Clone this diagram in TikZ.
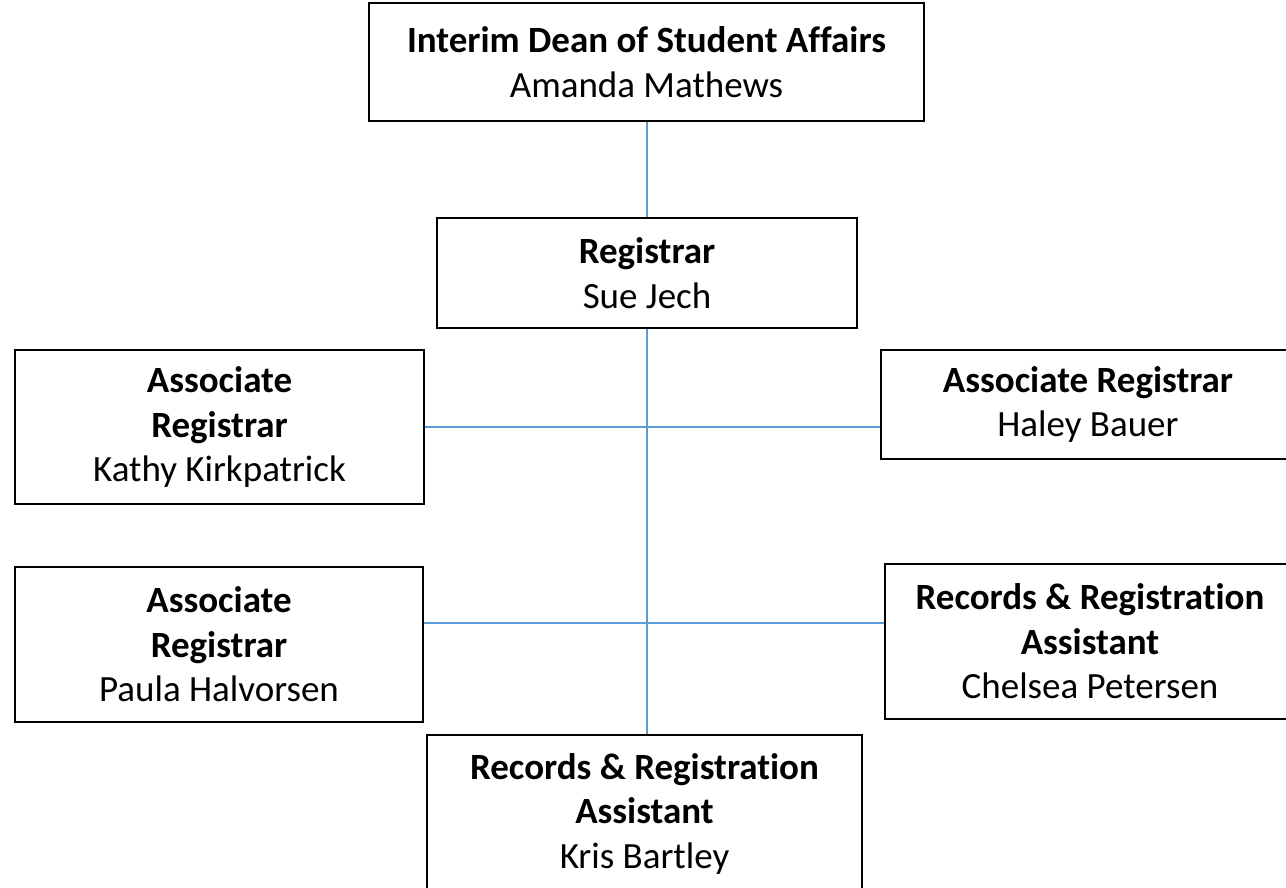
\documentclass[tikz,border=0pt]{standalone}
\usepackage{fontspec}
\setmainfont{Carlito}[Ligatures=NoCommon]
\definecolor{connblue}{HTML}{5B9BD5}
\tikzset{
  orgbox/.style={draw=black, line width=1.4pt, fill=white, rectangle, inner sep=0pt,
    align=center, font=\fontsize{37}{44.5}\selectfont},
  conn/.style={draw=connblue, line width=1.3pt}
}
\begin{document}
\begin{tikzpicture}[x=1pt,y=-1pt]
\useasboundingbox (0,0) rectangle (1286,887);
\clip (0,0) rectangle (1286,887);
\fill[white] (0,0) rectangle (1286,887);
% node geometry: center x = (l+r)/2, center y = (t+b)/2
\node[orgbox, minimum width=555pt, minimum height=118pt] (dean) at (646.5,62)
  {\textbf{Interim Dean of Student Affairs}\\Amanda Mathews};
\node[orgbox, minimum width=420pt, minimum height=110pt] (reg) at (647,273)
  {\textbf{Registrar}\\Sue Jech};
\node[orgbox, minimum width=409pt, minimum height=154pt] (kathy) at (219.5,427)
  {\textbf{Associate}\\\textbf{Registrar}\\Kathy Kirkpatrick};
\node[orgbox, minimum width=414pt, minimum height=109pt] (haley) at (1088,404.5)
  {\textbf{Associate Registrar}\\Haley Bauer};
\node[orgbox, minimum width=408pt, minimum height=155pt] (paula) at (219,644.5)
  {\textbf{Associate}\\\textbf{Registrar}\\Paula Halvorsen};
\node[orgbox, minimum width=410pt, minimum height=155pt] (chelsea) at (1090,641.5)
  {\textbf{Records \& Registration}\\\textbf{Assistant}\\Chelsea Petersen};
\node[orgbox, minimum width=435pt, minimum height=157pt] (kris) at (644.5,813.5)
  {\textbf{Records \& Registration}\\\textbf{Assistant}\\Kris Bartley};
% connectors
\coordinate (j1) at (647,427);
\coordinate (j2) at (647,623);
\draw[conn] (dean.south -| reg.north) -- (reg.north);
\draw[conn] (reg.south) -- (reg.south |- kris.north);
\draw[conn] (kathy.east |- j1) -- (haley.west |- j1);
\draw[conn] (paula.east |- j2) -- (chelsea.west |- j2);
\end{tikzpicture}
\end{document}
